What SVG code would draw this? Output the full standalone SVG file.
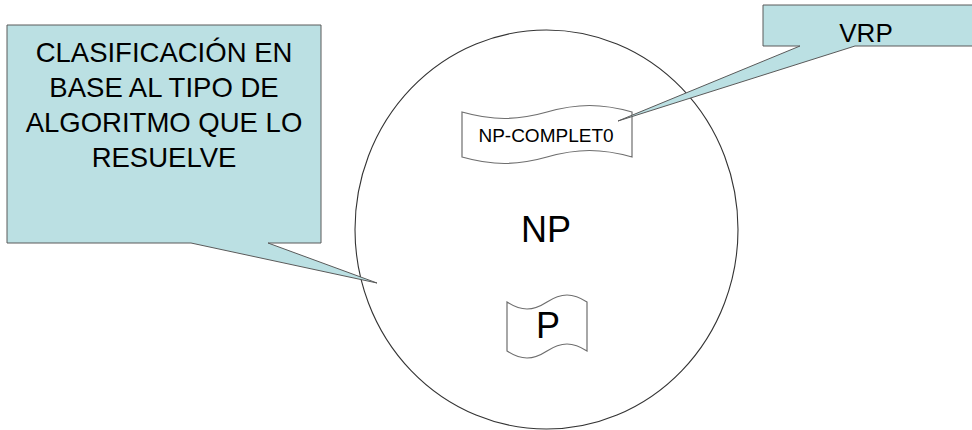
<svg xmlns="http://www.w3.org/2000/svg" width="972" height="430" viewBox="0 0 972 430">
<style>
.callout{fill:#BBE0E3;stroke:#5a5a5a;stroke-width:1}
.wave{fill:#ffffff;stroke:#6e6e6e;stroke-width:1.2}
.set{fill:#ffffff;stroke:#333333;stroke-width:1.1}
text{font-family:"Liberation Sans",Arial,sans-serif;fill:#000000;text-anchor:middle}
</style>
<rect x="0" y="0" width="972" height="430" fill="#ffffff"/>
<g id="np-set">
<ellipse class="set" cx="546.5" cy="229.5" rx="191.5" ry="199.5"/>
<text x="546" y="242" font-size="36">NP</text>
</g>
<g id="np-completo">
<path class="wave" d="M462,112 C492.6,120.67 516.4,120.67 547,112 C577.6,103.33 601.4,103.33 632,112 L632,157 C601.4,148.33 577.6,148.33 547,157 C516.4,165.67 492.6,165.67 462,157 Z"/>
<text x="546" y="142" font-size="19">NP-COMPLET0</text>
</g>
<g id="p-set">
<path class="wave" d="M507,302 C521.4,311.33 532.6,311.33 547,302 C561.4,292.67 572.6,292.67 587,302 L587,351 C572.6,341.67 561.4,341.67 547,351 C532.6,360.33 521.4,360.33 507,351 Z"/>
<text x="548" y="338" font-size="36">P</text>
</g>
<g id="callout-clasificacion">
<path class="callout" d="M7,25 H321 V243 H268 L377,283 L191,243 H7 Z"/>
<text x="164" y="62" font-size="27.5">CLASIFICACIÓN EN</text>
<text x="164" y="97" font-size="27.5">BASE AL TIPO DE</text>
<text x="164" y="132" font-size="27.5">ALGORITMO QUE LO</text>
<text x="164" y="167" font-size="27.5">RESUELVE</text>
</g>
<g id="callout-vrp">
<path class="callout" d="M763,5 H976 V46 H855 L618,121 L800,46 H763 Z"/>
<text x="866" y="42" font-size="26">VRP</text>
</g>
</svg>
